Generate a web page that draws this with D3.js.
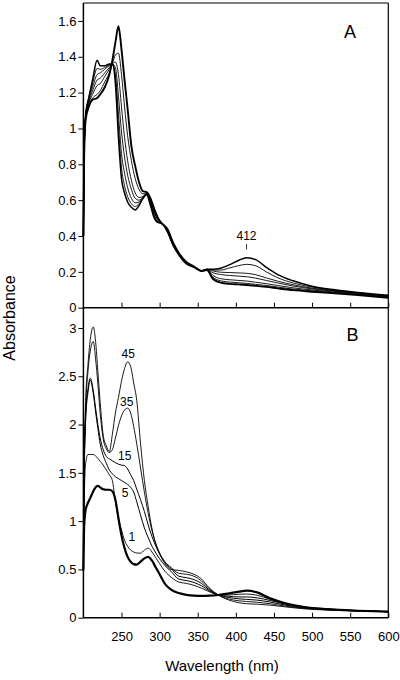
<!DOCTYPE html>
<html><head><meta charset="utf-8">
<script src="https://cdn.jsdelivr.net/npm/d3@7"></script>
<style>
body{margin:0;background:#fff}
svg{display:block}
text{font-family:"Liberation Sans",Arial,Helvetica,sans-serif;fill:#000}
</style>
</head><body>
<svg id="c" width="400" height="680"></svg>
<script>
// ---------- data ----------
const wA = [200,201,203,207,212,218,222,228,234,238,242,246,250,254,258,263,268,273,278,283,288,293,298,303,310,318,326,335,345,355,362,370,380,392,404,414,426,440,455,475,500,530,560,600];
const A0 = [0.40,0.85,1.05,1.12,1.16,1.17,1.19,1.23,1.30,1.38,1.48,1.57,1.44,1.27,1.11,0.90,0.79,0.70,0.65,0.645,0.61,0.55,0.50,0.47,0.44,0.36,0.30,0.255,0.23,0.205,0.21,0.16,0.14,0.133,0.13,0.127,0.122,0.116,0.108,0.098,0.089,0.08,0.07,0.055];
const A1 = [0.40,0.86,1.05,1.13,1.17,1.19,1.21,1.26,1.31,1.36,1.41,1.42,1.30,1.12,0.96,0.82,0.72,0.66,0.635,0.642,0.60,0.54,0.495,0.47,0.437,0.357,0.298,0.253,0.229,0.205,0.21,0.17,0.15,0.143,0.139,0.136,0.13,0.124,0.115,0.104,0.094,0.084,0.073,0.057];
const A2 = [0.40,0.87,1.06,1.14,1.19,1.24,1.25,1.29,1.33,1.36,1.37,1.30,1.12,0.95,0.82,0.71,0.64,0.615,0.62,0.64,0.595,0.53,0.49,0.47,0.434,0.354,0.296,0.251,0.228,0.205,0.212,0.18,0.162,0.156,0.152,0.149,0.142,0.134,0.124,0.111,0.099,0.087,0.076,0.06];
const A3 = [0.40,0.88,1.07,1.15,1.21,1.27,1.28,1.31,1.34,1.36,1.34,1.18,0.98,0.84,0.74,0.66,0.61,0.60,0.615,0.637,0.59,0.52,0.485,0.47,0.43,0.35,0.294,0.249,0.227,0.205,0.213,0.195,0.185,0.18,0.176,0.173,0.165,0.152,0.138,0.121,0.105,0.091,0.079,0.063];
const A4 = [0.40,0.88,1.07,1.16,1.23,1.30,1.31,1.33,1.35,1.355,1.30,1.08,0.86,0.75,0.67,0.61,0.585,0.59,0.61,0.635,0.58,0.51,0.48,0.47,0.428,0.348,0.292,0.247,0.226,0.205,0.214,0.205,0.198,0.196,0.194,0.192,0.184,0.166,0.148,0.128,0.109,0.094,0.081,0.065];
const A5 = [0.40,0.89,1.08,1.17,1.25,1.335,1.33,1.34,1.355,1.36,1.28,1.01,0.78,0.68,0.62,0.58,0.565,0.58,0.605,0.632,0.575,0.505,0.478,0.47,0.426,0.346,0.291,0.246,0.226,0.205,0.215,0.21,0.21,0.222,0.235,0.242,0.234,0.20,0.167,0.138,0.115,0.097,0.083,0.067];
const A6 = [0.40,0.90,1.08,1.17,1.27,1.38,1.35,1.35,1.36,1.36,1.25,0.95,0.72,0.64,0.59,0.56,0.545,0.57,0.61,0.63,0.57,0.50,0.475,0.47,0.425,0.345,0.29,0.245,0.225,0.205,0.215,0.215,0.22,0.24,0.265,0.279,0.268,0.225,0.185,0.15,0.12,0.10,0.085,0.07];

const wB = [200,201,203,206,209,213,216,219,222,226,230,234,238,242,246,250,254,258,262,266,270,275,280,285,290,295,300,307,315,325,335,345,355,365,377,390,404,414,428,445,465,490,520,560,600];
const B0 = [0.49,0.95,1.12,1.19,1.24,1.31,1.35,1.365,1.35,1.33,1.325,1.325,1.31,1.22,1.03,0.85,0.72,0.63,0.58,0.555,0.55,0.58,0.615,0.63,0.59,0.52,0.45,0.35,0.29,0.255,0.237,0.228,0.226,0.228,0.235,0.25,0.27,0.28,0.262,0.2,0.15,0.11,0.088,0.072,0.062];
const B1 = [0.5,1.2,1.6,1.69,1.69,1.69,1.675,1.65,1.62,1.58,1.53,1.48,1.42,1.20,1.02,0.91,0.80,0.74,0.70,0.68,0.67,0.668,0.70,0.72,0.68,0.62,0.56,0.48,0.42,0.37,0.355,0.335,0.305,0.27,0.235,0.235,0.243,0.245,0.232,0.19,0.145,0.11,0.088,0.073,0.062];
const B2 = [0.5,1.4,2.05,2.33,2.46,2.32,2.13,1.96,1.80,1.68,1.60,1.53,1.49,1.46,1.44,1.42,1.40,1.38,1.35,1.30,1.20,1.06,0.93,0.83,0.74,0.67,0.61,0.54,0.48,0.40,0.385,0.365,0.33,0.28,0.235,0.222,0.215,0.215,0.205,0.178,0.14,0.107,0.087,0.073,0.062];
const B3 = [0.5,1.45,2.1,2.37,2.48,2.35,2.17,2.0,1.86,1.74,1.67,1.645,1.625,1.605,1.59,1.58,1.575,1.54,1.48,1.42,1.33,1.22,1.10,0.96,0.84,0.74,0.66,0.57,0.51,0.43,0.415,0.395,0.355,0.29,0.235,0.21,0.195,0.19,0.182,0.162,0.13,0.102,0.084,0.072,0.062];
const B4 = [0.5,1.5,2.15,2.55,2.76,2.86,2.68,2.42,2.12,1.85,1.75,1.71,1.74,1.86,1.99,2.09,2.15,2.17,2.12,1.98,1.80,1.55,1.30,1.08,0.90,0.77,0.67,0.58,0.52,0.46,0.45,0.43,0.38,0.30,0.235,0.195,0.175,0.168,0.16,0.145,0.12,0.097,0.082,0.072,0.062];
const B5 = [0.5,1.6,2.25,2.62,2.88,3.01,2.86,2.55,2.23,1.89,1.78,1.72,1.90,2.12,2.28,2.45,2.58,2.65,2.60,2.43,2.25,1.80,1.42,1.15,0.92,0.76,0.66,0.56,0.50,0.49,0.475,0.45,0.40,0.31,0.235,0.185,0.155,0.145,0.14,0.13,0.112,0.092,0.079,0.07,0.062];

const xTicks = [250,300,350,400,450,500,550,600];
const yTicksA = [0,0.2,0.4,0.6,0.8,1,1.2,1.4,1.6];
const yLabelsA = ["0","0.2","0.4","0.6","0.8","1","1.2","1.4","1.6"];
const yTicksB = [0,0.5,1,1.5,2,2.5,3];
const yLabelsB = ["0","0.5","1","1.5","2","2.5","3"];
const seriesA = [A0,A1,A2,A3,A4,A5,A6];
const widthsA = [1.9,0.9,0.9,0.9,0.9,0.9,1.5];
const seriesB = [B0,B1,B2,B3,B4,B5];
const widthsB = [2.2,0.9,1.0,1.0,0.9,0.9];
const curveLabels = ["1","5","15","35","45"];
const curveLabelPos = [[263.7,0.836],[254.6,1.297],[254.2,1.675],[256.8,2.234],[258.9,2.74]];

// ---------- drawing ----------
const svg = d3.select("#c");
const x = d3.scaleLinear().domain([200,600]).range([83.4,388.3]);
const yA = d3.scaleLinear().domain([0,1.7]).range([307.7,3]);
const yB = d3.scaleLinear().domain([0,3.21]).range([617.7,307.7]);

function drawSeries(ys, w, y, sw) {
  const line = d3.line().x((d,i)=>x(w[i])).y(d=>y(d)).curve(d3.curveMonotoneX);
  svg.append("path").datum(ys).attr("d", line).attr("fill","none")
     .attr("stroke","#000").attr("stroke-width", sw).attr("stroke-linejoin","round");
}
seriesA.forEach((s,i)=>drawSeries(s, wA, yA, widthsA[i]));
seriesB.forEach((s,i)=>drawSeries(s, wB, yB, widthsB[i]));

// axes
function styleAxis(g, fs) {
  g.select(".domain").remove();
  g.selectAll("line").attr("stroke","#000").attr("stroke-width",1);
  g.selectAll("text").attr("font-size", fs).attr("font-family","Liberation Sans, Arial, sans-serif").attr("fill","#000");
}
const gyA = svg.append("g").attr("transform",`translate(${x(200)},0)`)
  .call(d3.axisLeft(yA).tickValues(yTicksA).tickFormat((d,i)=>yLabelsA[i]).tickSize(5).tickPadding(2));
styleAxis(gyA, 13);
const gyB = svg.append("g").attr("transform",`translate(${x(200)},0)`)
  .call(d3.axisLeft(yB).tickValues(yTicksB).tickFormat((d,i)=>yLabelsB[i]).tickSize(5).tickPadding(2));
styleAxis(gyB, 13);
const gxA = svg.append("g").attr("transform",`translate(0,${yA(0)})`)
  .call(d3.axisBottom(x).tickValues(xTicks).tickFormat("").tickSizeInner(-5).tickSizeOuter(0));
styleAxis(gxA, 13);
const gxB = svg.append("g").attr("transform",`translate(0,${yB(0)})`)
  .call(d3.axisBottom(x).tickValues(xTicks).tickFormat(d=>d).tickSizeInner(-5).tickSizeOuter(0).tickPadding(14));
styleAxis(gxB, 13);

// frames
const fr = svg.append("g").attr("stroke","#000").attr("fill","none");
fr.append("line").attr("x1",x(200)).attr("x2",x(200)).attr("y1",yA.range()[1]).attr("y2",yB(0)).attr("stroke-width",1.5);
fr.append("line").attr("x1",x(600)).attr("x2",x(600)).attr("y1",yA.range()[1]).attr("y2",yB(0)).attr("stroke-width",1.2);
fr.append("line").attr("x1",x(200)).attr("x2",x(600)).attr("y1",yA.range()[1]).attr("y2",yA.range()[1]).attr("stroke-width",1.2);
fr.append("line").attr("x1",x(200)).attr("x2",x(600)).attr("y1",yA(0)).attr("y2",yA(0)).attr("stroke-width",1.5);
fr.append("line").attr("x1",x(200)).attr("x2",x(600)).attr("y1",yB(0)).attr("y2",yB(0)).attr("stroke-width",1.5);

// panel letters
svg.append("text").attr("x",350).attr("y",38).attr("text-anchor","middle").attr("font-size",18).text("A");
svg.append("text").attr("x",352.5).attr("y",341).attr("text-anchor","middle").attr("font-size",18).text("B");

// 412 annotation
svg.append("text").attr("x",x(414)).attr("y",239.5).attr("text-anchor","middle").attr("font-size",12).text("412");
svg.append("line").attr("x1",x(414)).attr("x2",x(414)).attr("y1",244).attr("y2",249.5).attr("stroke","#000").attr("stroke-width",0.8);

// curve labels in B
curveLabels.forEach((t,i)=>{
  svg.append("text").attr("x",x(curveLabelPos[i][0])).attr("y",yB(curveLabelPos[i][1])+4.5)
    .attr("text-anchor","middle").attr("font-size",12).text(t);
});

// axis titles
svg.append("text").attr("transform","translate(15,318) rotate(-90)").attr("text-anchor","middle").attr("font-size",16).text("Absorbance");
svg.append("text").attr("x",222).attr("y",671).attr("text-anchor","middle").attr("font-size",15).text("Wavelength (nm)");
</script>
</body></html>
